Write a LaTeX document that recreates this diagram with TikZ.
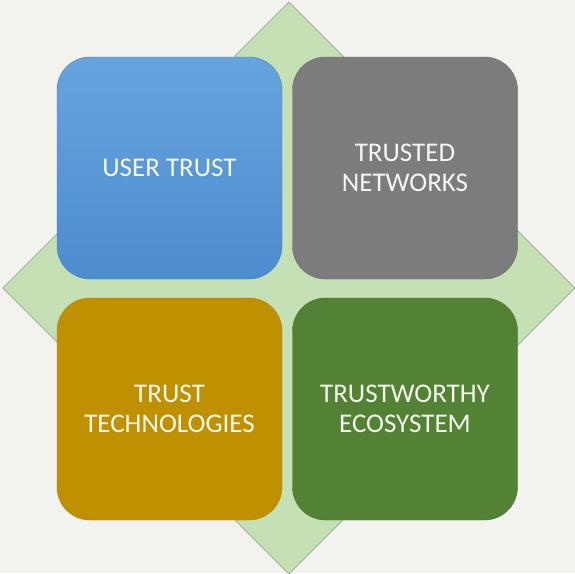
\documentclass[tikz,border=0pt]{standalone}
\usepackage{fontspec}
\setmainfont{Carlito}
\definecolor{bgc}{HTML}{F2F3EF}
\definecolor{diafill}{HTML}{C5E0B4}
\definecolor{diaedge}{HTML}{8A9A84}
\definecolor{bluetop}{HTML}{67A3DE}
\definecolor{bluebot}{HTML}{4C8DCE}
\definecolor{grayc}{HTML}{7C7C7C}
\definecolor{goldc}{HTML}{BF9000}
\definecolor{greenc}{HTML}{548235}
\definecolor{textc}{HTML}{F4F8EE}
\begin{document}
\begin{tikzpicture}[x=1pt,y=-1pt,
  tile/.style={rounded corners=33pt, minimum width=225pt, minimum height=222pt,
    inner sep=0pt, text=textc, align=center,
    font=\fontsize{27}{29.5}\selectfont},
  diamondshape/.style={fill=diafill, draw=diaedge, line width=0.6pt}]
\fill[bgc] (0,0) rectangle (575,573);
\useasboundingbox (0,0) rectangle (575,573);
\coordinate (dt) at (289,2);
\coordinate (dr) at (575,288);
\coordinate (db) at (289,574);
\coordinate (dl) at (3,288);
\filldraw[diamondshape] (dt) -- (dr) -- (db) -- (dl) -- cycle;
\node[tile, top color=bluetop, bottom color=bluebot, draw=bluebot!90!black, line width=0.4pt] (user) at (169.5,168) {USER TRUST};
\node[tile, fill=grayc, draw=grayc!85!black, line width=0.4pt] (net) at (405,168) {TRUSTED\\NETWORKS};
\node[tile, fill=goldc, draw=goldc!92!black, line width=0.4pt] (tech) at (169.5,409) {TRUST\\TECHNOLOGIES};
\node[tile, fill=greenc, draw=greenc!85!black, line width=0.4pt] (eco) at (405,409) {TRUSTWORTHY\\ECOSYSTEM};
\end{tikzpicture}
\end{document}
